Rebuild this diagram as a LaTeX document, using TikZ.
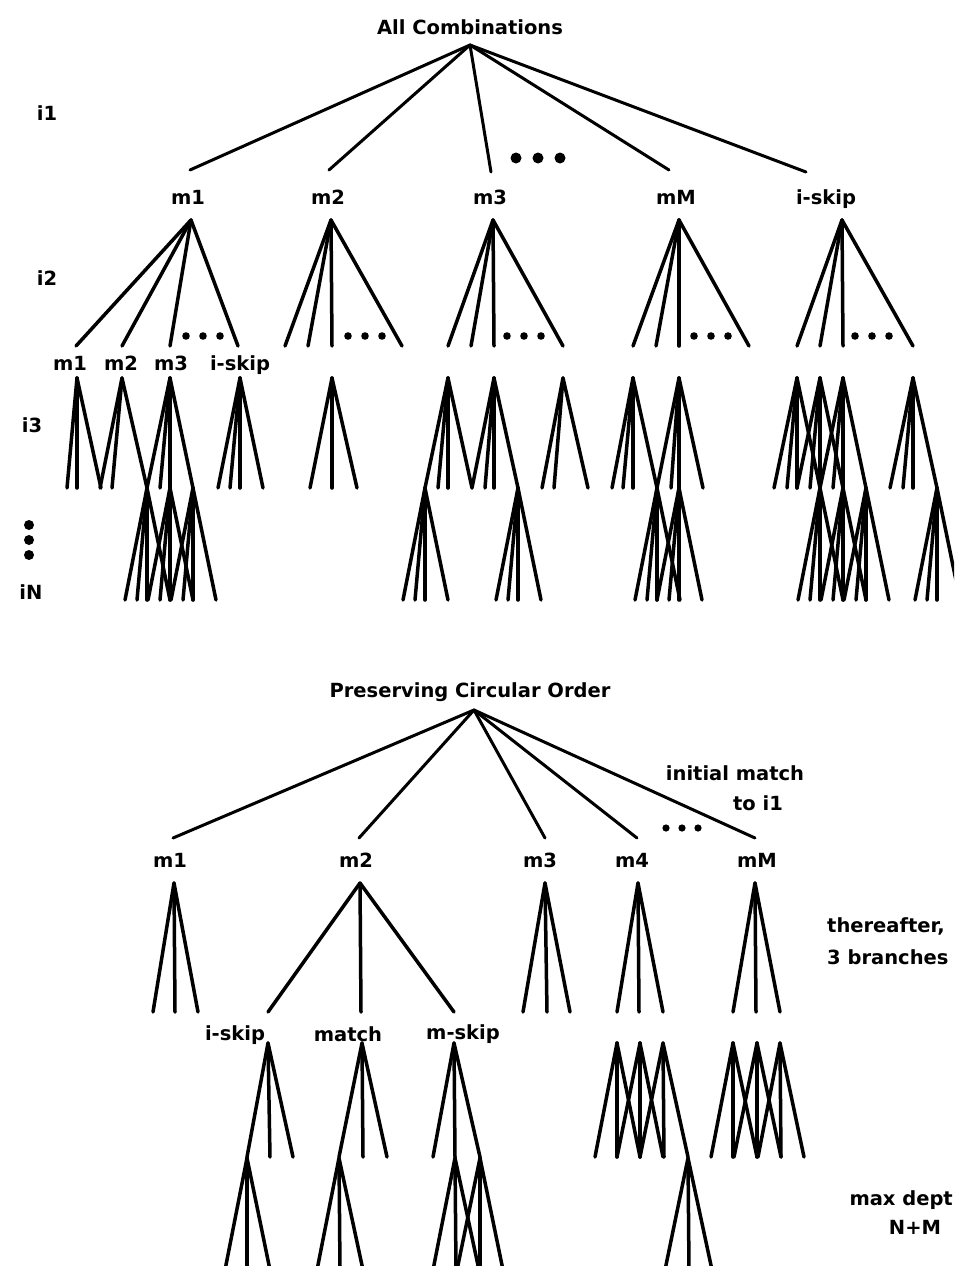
\documentclass[tikz,border=0pt]{standalone}
\usepackage{fontspec}
\setmainfont{DejaVu Sans}
\usetikzlibrary{calc}
\newcommand{\fanout}[5]{%
  \coordinate (#1) at (#2,#3);
  \foreach \ex [count=\k] in {#5} {
    \coordinate (#1-\k) at (\ex,#4);
    \draw[edge] (#1) -- (#1-\k);
  }%
}
\begin{document}
\begin{tikzpicture}[x=1pt,y=-1pt,
  edge/.style={line width=3.5pt, line cap=round, line join=round},
  rootedge/.style={line width=3pt, line cap=round},
  lab/.style={font=\bfseries\fontsize{19.5}{22}\selectfont, inner sep=0pt, text height=14pt, text depth=4pt},
  blob/.style={fill=black, draw=none}]
\useasboundingbox (0,0) rectangle (954,1266);
\clip (0,0) rectangle (954,1266);

% ================= All Combinations =================
\node[lab] (title1) at (470,29) {All Combinations};
\coordinate (T0) at (470,45);
\coordinate (T1) at (190,170);
\coordinate (T2) at (329,170);
\coordinate (T3) at (491,172);
\coordinate (T4) at (669,170);
\coordinate (T5) at (806,172);
\foreach \c in {T1,T2,T3,T4,T5} \draw[rootedge] (T0) -- (\c);
\foreach \x in {516,538,560} \fill[blob] (\x,158) circle (5.5);

\node[lab] (lv1) at (47,115) {i1};
\node[lab] (lv2) at (47,280) {i2};
\node[lab] (lv3) at (32,427) {i3};
\node[lab] (lvN) at (31,594) {iN};
\foreach \y in {525,540,555} \fill[blob] (29,\y) circle (5);

\node[lab] (tm1) at (188,199) {m1};
\node[lab] (tm2) at (328,199) {m2};
\node[lab] (tm3) at (490,199) {m3};
\node[lab] (tmM) at (676,199) {mM};
\node[lab] (tis) at (826,199) {i-skip};

% level i2
\fanout{A1}{191}{220}{346}{76,122,170,238}
\fanout{A2}{331}{220}{346}{285,308,332,402}
\fanout{A3}{493}{220}{346}{448,471,494,563}
\fanout{A4}{679}{220}{346}{633,656,679,749}
\fanout{A5}{842}{220}{346}{797,820,843,913}
\foreach \x in {186,203,220, 348,365,382, 507,524,541, 694,711,728, 855,872,889}
  \fill[blob] (\x,336) circle (3.8);

\node[lab] (sm1) at (70,365) {m1};
\node[lab] (sm2) at (121,365) {m2};
\node[lab] (sm3) at (171,365) {m3};
\node[lab] (sis) at (240,365) {i-skip};

% level i3
\fanout{B1}{77}{378}{488}{67,77,101}
\fanout{B2}{122}{378}{488}{100,112,147}
\fanout{B3}{170}{378}{488}{147,160,170,193}
\fanout{B4}{240}{378}{488}{218,230,240,263}
\fanout{B5}{332}{378}{488}{310,332,357}
\fanout{B6}{448}{378}{488}{425,438,448,472}
\fanout{B7}{494}{378}{488}{472,485,494,518}
\fanout{B8}{563}{378}{488}{542,554,588}
\fanout{B9}{633}{378}{488}{612,623,633,657}
\fanout{B10}{679}{378}{488}{657,671,679,703}
\fanout{B11}{797}{378}{488}{774,787,797,820}
\fanout{B12}{820}{378}{488}{797,810,820,843}
\fanout{B13}{843}{378}{488}{820,833,843,866}
\fanout{B14}{913}{378}{488}{890,903,913,937}

% level iN
\foreach \n/\a in {C1/147,C2/170,C3/193,C4/425,C5/518,C6/657,C7/679,C8/820,C9/843,C10/866,C11/937}{
  \pgfmathtruncatemacro{\xa}{\a-22}
  \pgfmathtruncatemacro{\xb}{\a-10}
  \pgfmathtruncatemacro{\xc}{\a+23}
  \fanout{\n}{\a}{488}{600}{\xa,\xb,\a,\xc}
}

% ================= Preserving Circular Order =================
\node[lab] (title2) at (470,692) {Preserving Circular Order};
\coordinate (P0) at (474,710);
\coordinate (P1) at (173,838);
\coordinate (P2) at (359,838);
\coordinate (P3) at (545,838);
\coordinate (P4) at (637,838);
\coordinate (P5) at (755,838);
\foreach \c in {P1,P2,P3,P4,P5} \draw[rootedge] (P0) -- (\c);
\foreach \x in {666,682,698} \fill[blob] (\x,828) circle (3.6);

\node[lab] (init1) at (735,775) {initial match};
\node[lab] (init2) at (758,805) {to i1};

\node[lab] (bm1) at (170,862) {m1};
\node[lab] (bm2) at (356,862) {m2};
\node[lab] (bm3) at (540,862) {m3};
\node[lab] (bm4) at (632,862) {m4};
\node[lab] (bmM) at (757,862) {mM};

\fanout{D1}{174}{883}{1012}{153,175,198}
\fanout{D2}{360}{883}{1012}{268,361,454}
\fanout{D3}{545}{883}{1012}{523,547,570}
\fanout{D4}{638}{883}{1012}{617,639,663}
\fanout{D5}{755}{883}{1012}{733,756,780}

\node[lab] (bis) at (235,1035) {i-skip};
\node[lab] (bma) at (348,1036) {match};
\node[lab] (bms) at (463,1034) {m-skip};

\fanout{E1}{268}{1043}{1157}{247,270,293}
\fanout{E2}{362}{1043}{1157}{339,363,387}
\fanout{E3}{454}{1043}{1157}{433,455,480}
\fanout{E4}{617}{1043}{1157}{595,617,640}
\fanout{E5}{640}{1043}{1157}{617,640,663}
\fanout{E6}{663}{1043}{1157}{640,664,688}
\fanout{E7}{733}{1043}{1157}{711,733,757}
\fanout{E8}{757}{1043}{1157}{734,757,781}
\fanout{E9}{780}{1043}{1157}{758,781,804}

\fanout{F1}{247}{1158}{1270}{225,247,270}
\fanout{F2}{339}{1158}{1270}{317,340,363}
\fanout{F3}{455}{1158}{1270}{433,456,479}
\fanout{F4}{480}{1158}{1270}{457,480,503}
\fanout{F5}{688}{1158}{1270}{665,689,712}

\node[lab, anchor=west] (th1) at (827,927) {thereafter,};
\node[lab, anchor=west] (th2) at (827,959) {3 branches};
\node[lab, anchor=east] (md1) at (953,1200) {max dept};
\node[lab] (md2) at (915,1229) {N+M};
\end{tikzpicture}
\end{document}
